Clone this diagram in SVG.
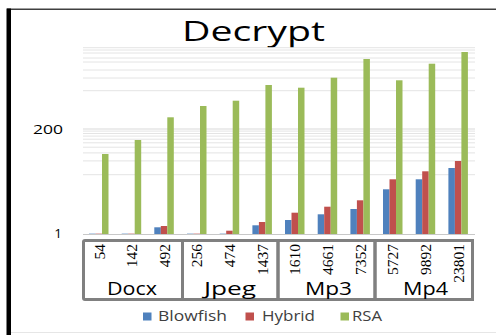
<svg xmlns="http://www.w3.org/2000/svg" width="496" height="335" viewBox="0 0 496 335">
<style>
.grid{stroke:#e4e4e4;stroke-width:1;fill:none}
.gmaj{stroke:#d9d9d9;stroke-width:1;fill:none}
.b{fill:#4f81bd}
.r{fill:#c0504d}
.g{fill:#9bbb59}
.num{font-family:"Liberation Serif","Times New Roman",serif;font-size:15.5px;fill:#000;text-anchor:end}
.grp{font-family:"Open Sans","DejaVu Sans",sans-serif;font-size:19px;fill:#000;text-anchor:middle}
.ax{font-family:"Open Sans","DejaVu Sans",sans-serif;font-size:13.5px;fill:#000;text-anchor:end}
.leg{font-family:"Open Sans","DejaVu Sans",sans-serif;font-size:14px;fill:#404040}
.box{fill:none;stroke:#808080;stroke-width:3}
</style>
<rect x="0" y="0" width="496" height="335" fill="#ffffff"/>
<g id="frame">
<line x1="7" y1="9.2" x2="496" y2="9.2" stroke="#404040" stroke-width="1.6"/>
<rect x="6.5" y="8.5" width="4.5" height="326.5" fill="#000"/>
<line x1="11" y1="332.5" x2="496" y2="332.5" stroke="#e6e6e6" stroke-width="1"/>
</g>
<g id="title"><text x="253.5" y="41" font-family="'Open Sans','DejaVu Sans',sans-serif" font-size="28" text-anchor="middle" textLength="143" lengthAdjust="spacingAndGlyphs" fill="#000">Decrypt</text></g>
<g id="gridlines">
<path class="grid" d="M83 47.7H475M83 50H475M83 53H475M83 58H475M83 62H475M83 70H475M83 78H475M83 90.7H475M83 131.1H475M83 133.5H475M83 136.1H475M83 139.2H475M83 142.8H475M83 147.2H475M83 152.9H475M83 160.9H475M83 174.7H475"/>
<path class="gmaj" d="M83 129H475"/>
<path d="M83 234.5H475" stroke="#c8c8c8" stroke-width="1"/>
</g>
<g id="yaxis">
<text class="ax" x="63" y="134" textLength="30" lengthAdjust="spacingAndGlyphs">200</text>
<text class="ax" x="62" y="238">1</text>
</g>
<g id="bars">
<rect class="b" x="89" y="233.3" width="6.5" height="0.7" opacity="0.5"/><rect class="r" x="95.5" y="233.3" width="6.5" height="0.7" opacity="0.5"/><rect class="g" x="102" y="154" width="6.5" height="80"/>
<rect class="b" x="121.7" y="233.3" width="6.5" height="0.7" opacity="0.5"/><rect class="r" x="128.2" y="233.3" width="6.5" height="0.7" opacity="0.5"/><rect class="g" x="134.7" y="140" width="6.5" height="94"/>
<rect class="b" x="154.3" y="227.3" width="6.5" height="6.7"/><rect class="r" x="160.8" y="226" width="6.5" height="8"/><rect class="g" x="167.3" y="117.3" width="6.5" height="116.7"/>
<rect class="b" x="187" y="233.3" width="6.5" height="0.7" opacity="0.5"/><rect class="r" x="193.5" y="233.3" width="6.5" height="0.7" opacity="0.5"/><rect class="g" x="200" y="106" width="6.5" height="128"/>
<rect class="b" x="219.7" y="233.3" width="6.5" height="0.7" opacity="0.5"/><rect class="r" x="226.2" y="230.7" width="6.5" height="3.3"/><rect class="g" x="232.7" y="100.7" width="6.5" height="133.3"/>
<rect class="b" x="252.4" y="225.3" width="6.5" height="8.7"/><rect class="r" x="258.9" y="222" width="6.5" height="12"/><rect class="g" x="265.4" y="85" width="6.5" height="149"/>
<rect class="b" x="285" y="220" width="6.5" height="14"/><rect class="r" x="291.5" y="212.7" width="6.5" height="21.3"/><rect class="g" x="298" y="87.7" width="6.5" height="146.3"/>
<rect class="b" x="317.7" y="214.3" width="6.5" height="19.7"/><rect class="r" x="324.2" y="206.7" width="6.5" height="27.3"/><rect class="g" x="330.7" y="77.7" width="6.5" height="156.3"/>
<rect class="b" x="350.4" y="209" width="6.5" height="25"/><rect class="r" x="356.9" y="200.3" width="6.5" height="33.7"/><rect class="g" x="363.4" y="59" width="6.5" height="175"/>
<rect class="b" x="383" y="189.3" width="6.5" height="44.7"/><rect class="r" x="389.5" y="179.3" width="6.5" height="54.7"/><rect class="g" x="396" y="80.3" width="6.5" height="153.7"/>
<rect class="b" x="415.7" y="179.3" width="6.5" height="54.7"/><rect class="r" x="422.2" y="171.3" width="6.5" height="62.7"/><rect class="g" x="428.7" y="63.7" width="6.5" height="170.3"/>
<rect class="b" x="448.4" y="168" width="6.5" height="66"/><rect class="r" x="454.9" y="161" width="6.5" height="73"/><rect class="g" x="461.4" y="52" width="6.5" height="182"/>
</g>
<g id="category-boxes">
<rect class="box" x="83.5" y="240.5" width="99" height="59" rx="1.5"/>
<rect class="box" x="182.5" y="240.5" width="95.5" height="59"/>
<rect class="box" x="278" y="240.5" width="97" height="59"/>
<rect class="box" x="375" y="240.5" width="97.5" height="59"/>
</g>
<g id="category-labels">
<text class="num" transform="translate(104.5,244) rotate(-90)">54</text>
<text class="num" transform="translate(137,244) rotate(-90)">142</text>
<text class="num" transform="translate(169.7,244) rotate(-90)">492</text>
<text class="num" transform="translate(202.4,244) rotate(-90)">256</text>
<text class="num" transform="translate(235.1,244) rotate(-90)">474</text>
<text class="num" transform="translate(267.7,244) rotate(-90)">1437</text>
<text class="num" transform="translate(300.4,244) rotate(-90)">1610</text>
<text class="num" transform="translate(333.1,244) rotate(-90)">4661</text>
<text class="num" transform="translate(365.7,244) rotate(-90)">7352</text>
<text class="num" transform="translate(398.4,244) rotate(-90)">5727</text>
<text class="num" transform="translate(431.1,244) rotate(-90)">9892</text>
<text class="num" transform="translate(463.7,244) rotate(-90)">23801</text>
<text class="grp" x="132" y="294.5" textLength="50" lengthAdjust="spacingAndGlyphs">Docx</text>
<text class="grp" x="230" y="294.5" textLength="52" lengthAdjust="spacingAndGlyphs">Jpeg</text>
<text class="grp" x="328.5" y="294.5" textLength="47" lengthAdjust="spacingAndGlyphs">Mp3</text>
<text class="grp" x="425.5" y="294.5" textLength="45" lengthAdjust="spacingAndGlyphs">Mp4</text>
</g>
<g id="legend">
<rect class="b" x="143" y="312.5" width="8.5" height="8"/>
<text class="leg" x="158" y="320.8" textLength="69" lengthAdjust="spacingAndGlyphs">Blowfish</text>
<rect class="r" x="245.5" y="312.5" width="8.5" height="8"/>
<text class="leg" x="262" y="320.8" textLength="53" lengthAdjust="spacingAndGlyphs">Hybrid</text>
<rect class="g" x="340.5" y="312.5" width="8.5" height="8"/>
<text class="leg" x="352" y="320.8" textLength="30" lengthAdjust="spacingAndGlyphs">RSA</text>
</g>
</svg>
